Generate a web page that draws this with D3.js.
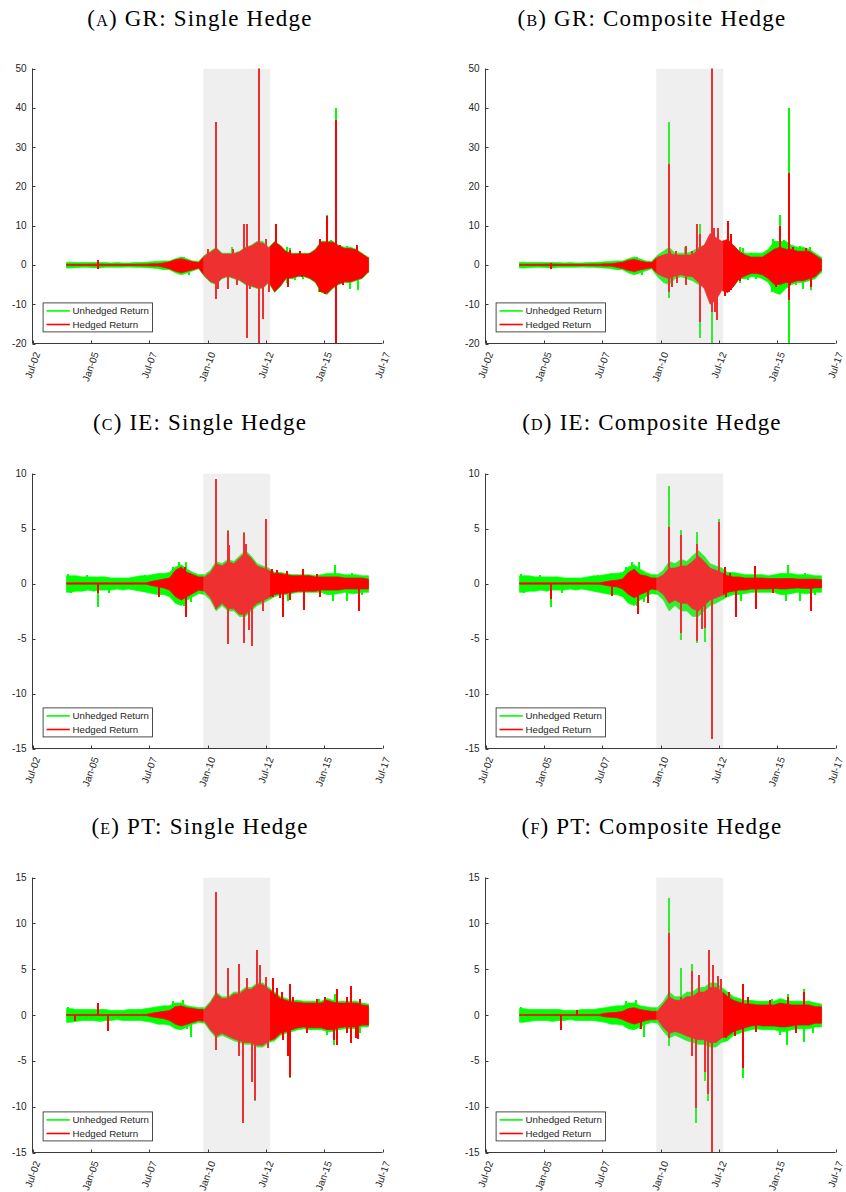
<!DOCTYPE html>
<html><head><meta charset="utf-8">
<script src="https://cdn.jsdelivr.net/npm/d3@7"></script>
<style>body{margin:0;background:#fff}svg{display:block}</style>
</head><body>
<svg id="chart" width="846" height="1192"></svg>
<script>
// ---------------- DATA ----------------
const xTickLabels = ["Jul-02","Jan-05","Jul-07","Jan-10","Jul-12","Jan-15","Jul-17"];
// quarterly bins 2004Q1..2016Q4 (categories for the envelope arrays)
const quarterLabels = d3.range(2004, 2017).flatMap(y => ["Q1","Q2","Q3","Q4"].map(q => y + q));
const dataStart = "2003-12-15", dataEnd = "2016-11-25";
const crisisStart = "2009-10-25", crisisEnd = "2012-09-06";

const yTicksGR = [-20,-10,0,10,20,30,40,50];
const yTicksIE = [-15,-10,-5,0,5,10];
const yTicksPT = [-15,-10,-5,0,5,10,15];

// ---- Greece: unhedged return envelope (quarterly high / low) + spikes [decimal year, value] ----
const grGreenHi = [.7,.6,.6,.6, .6,.6,.6,.5, .6,.5,.5,.6, .6,.7,.8,.9, 1.0,1.0,1.6,2.0, 1.5,1.0,.9,2.5, 3.5,4.5,3.0,3.0, 3.0,3.5,4.5,5.0, 6.0,6.0,4.5,6.0, 5.0,3.5,3.0,3.0, 3.0,3.0,4.0,6.0, 6.0,6.0,5.0,4.5, 4.5,4.0,3.0,2.0];
const grGreenLo = [-.8,-.7,-.6,-.6, -.7,-.8,-.6,-.6, -.6,-.6,-.5,-.6, -.6,-.7,-.8,-.9, -1.2,-1.2,-2.0,-2.5, -2.0,-1.5,-1.0,-3.0, -4.5,-5.0,-3.5,-3.0, -3.5,-4.0,-5.0,-5.5, -6.0,-6.0,-4.5,-7.0, -5.5,-3.5,-3.5,-3.0, -3.0,-3.5,-4.5,-7.0, -7.5,-6.0,-5.0,-4.5, -4.5,-4.0,-3.5,-2.0];
const grGreenSpikes = [[2008.8,1.5],[2009.0,2.0],[2009.2,-2.5],[2010.35,36.5],[2010.35,-8.5],[2011.03,4.5],[2011.56,10.5],[2011.7,10.5],[2011.7,-18.5],[2012.2,-20.5],[2013.39,4.5],[2013.39,-4.5],[2013.53,4.3],[2013.75,-3.8],[2013.89,3.0],[2014.1,-3.5],[2014.76,-6.8],[2014.81,6.5],[2014.96,5.5],[2015.04,-7.5],[2015.1,12.7],[2015.25,-6.0],[2015.3,6.3],[2015.5,10],[2015.52,40],[2015.52,-20.5],[2015.82,-5.0],[2015.96,4.8],[2016.1,-6],[2016.39,4.5],[2016.46,-6.5]];
// ---- Greece single hedge: hedged return ----
const grSingleRedHi = [.15,.15,.15,.15, .2,.2,.15,.15, .15,.15,.15,.15, .2,.2,.3,.3, .5,.8,1.3,1.6, 1.2,.8,.6,2.3, 3.2,4.2,2.8,2.8, 2.8,3.3,4.3,4.8, 5.8,5.5,4.3,5.8, 4.8,3.3,2.8,2.8, 2.8,2.8,3.8,5.8, 5.8,5.8,4.8,4.2, 4.2,3.8,2.8,1.8];
const grSingleRedLo = [-.15,-.15,-.15,-.15, -.2,-.2,-.15,-.15, -.15,-.15,-.15,-.15, -.2,-.2,-.3,-.3, -.6,-1.0,-1.6,-2.0, -1.6,-1.2,-.8,-2.8, -4.2,-4.8,-3.3,-2.8, -3.3,-3.8,-4.8,-5.3, -5.8,-5.8,-4.3,-6.8, -5.3,-3.3,-3.3,-2.8, -2.8,-3.3,-4.3,-6.8, -7.2,-5.8,-4.8,-4.3, -4.3,-3.8,-3.3,-1.8];
const grSingleRedSpikes = [[2005.3,1.2],[2005.32,-1.0],[2010.03,4],[2010.1,-4],[2010.35,36.5],[2010.35,-8.7],[2010.46,-6],[2010.89,-6],[2011.1,4],[2011.24,-5],[2011.56,10.5],[2011.7,-18.5],[2011.7,10.5],[2011.84,-6],[2011.96,5],[2012.2,50.5],[2012.2,-19.8],[2012.39,-13.7],[2012.49,6.5],[2012.64,-7],[2012.9,-5],[2012.93,10.5],[2013.1,4.5],[2013.21,-4],[2013.34,3.5],[2013.46,-5.5],[2013.53,3.8],[2013.96,3.5],[2014.03,-3],[2014.39,3.0],[2014.81,-7],[2014.81,6.5],[2015.03,-7.5],[2015.1,12.5],[2015.24,5],[2015.31,-6],[2015.39,5],[2015.5,9],[2015.52,37],[2015.52,-20.5],[2015.67,5],[2015.82,-5],[2016.1,4],[2016.41,5],[2016.67,-3]];
// ---- Greece composite hedge: hedged return ----
const grCompRedHi = [.15,.15,.15,.15, .2,.2,.15,.15, .15,.15,.15,.15, .2,.2,.3,.3, .5,.7,1.2,1.4, 1.0,.7,.6,2.0, 2.5,3.0,2.5,2.5, 2.5,2.5,4.0,5.0, 8.0,7.0,6.0,6.5, 5.0,3.5,2.5,2.0, 2.0,2.0,3.0,4.0, 4.5,4.0,4.0,3.5, 3.5,3.5,2.5,1.5];
const grCompRedLo = [-.15,-.15,-.15,-.15, -.2,-.2,-.15,-.15, -.15,-.15,-.15,-.15, -.2,-.2,-.3,-.3, -.6,-.9,-1.4,-1.7, -1.3,-1.0,-.7,-2.3, -3.0,-3.5,-2.8,-2.5, -2.8,-3.0,-4.5,-6.0, -10.0,-9.0,-6.5,-7.0, -5.5,-3.5,-2.8,-2.2, -2.2,-2.5,-3.5,-5.0, -5.0,-4.5,-4.5,-4.0, -4.0,-3.5,-3.0,-1.5];
const grCompRedSpikes = [[2005.3,0.5],[2005.31,-1.0],[2010.35,25.8],[2010.35,-7],[2010.42,3.5],[2010.5,-5.5],[2010.67,3.5],[2010.7,-4.5],[2011.1,4.8],[2011.1,-5],[2011.36,3.5],[2011.56,10.3],[2011.7,8],[2011.7,-14.5],[2012.2,50.5],[2012.2,-12],[2012.3,9.5],[2012.35,-12],[2012.4,-14],[2012.45,9.5],[2012.74,-8],[2012.89,11.2],[2012.95,-7],[2013.0,8],[2013.03,7.5],[2013.03,-6.5],[2013.24,4],[2013.39,-4],[2014.96,3.5],[2014.96,-5.5],[2015.1,10],[2015.52,23.5],[2015.52,-9],[2015.56,-5],[2015.67,4.5],[2016.24,4.3],[2016.46,-5.5]];

// ---- Ireland ----
const ieGreenHi = [.7,.7,.6,.6, .6,.6,.6,.5, .5,.5,.5,.6, .7,.7,.8,.9, .9,1.0,1.5,1.7, 1.3,1.0,.8,.8, 1.2,2.0,1.8,2.2, 2.0,2.5,3.0,2.5, 1.8,1.6,1.4,1.0, 1.0,.9,.8,.8, .8,.8,.7,.8, .9,.9,.9,.8, .8,.8,.7,.7];
const ieGreenLo = [-.8,-.7,-.7,-.6, -.7,-.6,-.6,-.6, -.5,-.6,-.5,-.6, -.7,-.8,-.9,-1.0, -1.0,-1.2,-1.8,-2.0, -1.5,-1.2,-.9,-1.0, -1.5,-2.5,-2.0,-2.5, -2.5,-3.0,-3.0,-2.5, -2.0,-1.8,-1.5,-1.2, -1.0,-1.0,-.9,-.8, -.8,-.8,-.8,-.8, -1.0,-1.0,-.9,-.8, -.9,-.9,-.8,-.8];
const ieGreenSpikes = [[2004.03,0.9],[2004.13,-0.9],[2004.81,0.8],[2005.31,-2.1],[2005.76,-0.9],[2007.31,0.8],[2007.6,-0.8],[2007.79,0.9],[2008.17,0.8],[2008.24,-1.0],[2008.5,1.5],[2008.6,-1.6],[2008.79,2.0],[2009.0,-2.0],[2009.07,2.0],[2009.3,-1.7],[2010.34,8.9],[2010.34,-2.0],[2010.86,4.9],[2010.86,-5.1],[2011.56,4.7],[2011.56,-5.4],[2011.91,-5.3],[2012.49,5.9],[2013.46,-1.6],[2015.39,-1.6],[2015.46,1.7],[2015.96,-1.6],[2016.2,1.0],[2016.6,-1.0]];
const ieSingleRedHi = [.06,.06,.06,.06, .06,.06,.06,.06, .06,.06,.06,.06, .06,.06,.2,.3, .4,.5,1.2,1.5, 1.0,.8,.6,.6, 1.0,1.8,1.6,2.0, 1.8,2.3,2.8,2.3, 1.6,1.4,1.2,.9, .9,.8,.7,.7, .7,.7,.6,.6, .6,.6,.6,.5, .5,.5,.5,.4];
const ieSingleRedLo = [-.06,-.06,-.06,-.06, -.06,-.06,-.06,-.06, -.06,-.06,-.06,-.06, -.06,-.06,-.2,-.3, -.4,-.6,-1.2,-1.5, -1.2,-.9,-.6,-.7, -1.3,-2.3,-1.8,-2.3, -2.3,-2.8,-2.8,-2.3, -1.8,-1.6,-1.3,-1.0, -.9,-.9,-.8,-.7, -.7,-.7,-.7,-.6, -.6,-.6,-.6,-.5, -.5,-.5,-.5,-.5];
const ieSingleRedSpikes = [[2005.31,-0.9],[2007.93,-1.2],[2008.9,1.3],[2009.05,1.5],[2009.07,-3.0],[2009.25,1.0],[2010.34,9.5],[2010.34,-2.3],[2010.86,4.8],[2010.86,-5.5],[2010.93,3.5],[2011.56,4.6],[2011.56,-5.4],[2011.63,3.6],[2011.79,-4.2],[2011.91,-5.7],[2012.39,-2.5],[2012.49,5.9],[2012.74,1.3],[2012.81,-1.2],[2012.96,1.2],[2013.1,-1.3],[2013.24,-3.0],[2013.39,1.1],[2013.53,-1.5],[2014.1,1.3],[2014.13,-2.4],[2014.67,0.9],[2014.81,-1.2],[2016.49,-2.5]];
const ieCompRedHi = [.06,.06,.06,.06, .06,.06,.06,.06, .06,.06,.06,.06, .06,.06,.15,.25, .3,.4,1.0,1.3, .8,.7,.5,.5, .8,1.4,1.4,1.6, 1.6,2.0,2.5,2.0, 1.4,1.2,1.0,.7, .6,.6,.5,.5, .5,.5,.45,.45, .45,.45,.45,.4, .4,.4,.4,.35];
const ieCompRedLo = [-.06,-.06,-.06,-.06, -.06,-.06,-.06,-.06, -.06,-.06,-.06,-.06, -.06,-.06,-.15,-.25, -.3,-.5,-1.0,-1.3, -1.0,-.8,-.5,-.6, -1.0,-1.8,-1.5,-1.8, -1.8,-2.3,-2.5,-2.0, -1.5,-1.3,-1.1,-.8, -.7,-.6,-.6,-.5, -.5,-.5,-.5,-.45, -.5,-.5,-.45,-.4, -.45,-.45,-.4,-.4];
const ieCompRedSpikes = [[2005.31,-1.4],[2007.9,-1.1],[2009.03,-2.8],[2009.46,-1.8],[2010.34,5.1],[2010.34,-1.2],[2010.86,4.4],[2010.86,-4.5],[2011.56,3.6],[2011.56,-5.2],[2011.77,-4.1],[2011.91,-4.0],[2012.19,-14.1],[2012.49,5.6],[2012.74,1.5],[2012.81,-1.2],[2012.96,1.0],[2013.21,-3.0],[2014.06,1.6],[2014.11,-2.3],[2014.81,-0.9],[2016.43,-2.5]];

// ---- Portugal ----
const ptGreenHi = [.7,.6,.6,.6, .6,.6,.6,.5, .5,.5,.6,.6, .6,.7,.8,.9, 1.0,1.0,1.3,1.3, 1.0,.9,.8,.8, 1.5,2.5,2.0,2.0, 2.5,2.5,3.0,3.0, 3.5,3.5,3.0,2.5, 2.0,1.8,1.6,1.6, 1.5,1.5,1.5,1.5, 1.8,1.6,1.5,1.5, 1.5,1.5,1.3,1.2];
const ptGreenLo = [-.8,-.7,-.6,-.6, -.6,-.7,-.6,-.6, -.5,-.6,-.6,-.6, -.6,-.7,-.8,-1.0, -1.0,-1.1,-1.5,-1.6, -1.3,-1.0,-.8,-.9, -1.8,-2.5,-2.2,-2.5, -2.8,-3.0,-3.2,-3.2, -3.5,-3.5,-3.0,-2.8, -2.2,-2.0,-1.8,-1.6, -1.5,-1.6,-1.6,-1.6, -1.8,-1.8,-1.6,-1.5, -1.5,-1.5,-1.3,-1.3];
const ptGreenSpikes = [[2004.03,0.9],[2008.5,1.5],[2008.75,1.2],[2008.96,1.6],[2009.1,-1.5],[2009.27,-2.4],[2010.34,12.8],[2010.34,-3.4],[2010.89,5.1],[2011.36,5.6],[2011.5,-11.8],[2011.9,-7.2],[2012.03,-9.4],[2013.53,-6.9],[2014.79,1.8],[2015.1,-2.2],[2015.41,-3.3],[2015.46,2.3],[2016.14,2.8],[2016.14,-2.9],[2016.55,-2.0]];
const ptSingleRedHi = [.06,.06,.06,.06, .06,.06,.06,.06, .06,.06,.06,.06, .06,.06,.2,.3, .4,.5,.9,1.0, .8,.7,.6,.6, 1.3,2.3,1.8,1.8, 2.3,2.3,2.8,2.8, 3.3,3.3,2.8,2.3, 1.8,1.6,1.4,1.4, 1.3,1.3,1.3,1.3, 1.6,1.4,1.3,1.3, 1.3,1.3,1.1,1.0];
const ptSingleRedLo = [-.06,-.06,-.06,-.06, -.06,-.06,-.06,-.06, -.06,-.06,-.06,-.06, -.06,-.06,-.2,-.3, -.4,-.6,-1.0,-1.2, -1.0,-.8,-.6,-.7, -1.6,-2.3,-2.0,-2.3, -2.6,-2.8,-3.0,-3.0, -3.3,-3.3,-2.8,-2.6, -2.0,-1.8,-1.6,-1.4, -1.3,-1.4,-1.4,-1.4, -1.6,-1.6,-1.4,-1.3, -1.3,-1.3,-1.1,-1.1];
const ptSingleRedSpikes = [[2004.3,-0.6],[2005.31,1.3],[2005.71,-1.7],[2010.34,13.4],[2010.34,-3.8],[2010.89,5.1],[2011.33,-4.5],[2011.36,5.6],[2011.5,-11.8],[2011.68,4.0],[2011.9,-7.3],[2012.03,-9.3],[2012.11,7.1],[2012.24,5.5],[2012.49,4.2],[2012.6,-3.6],[2012.78,-2.5],[2012.81,4.0],[2012.96,2.9],[2013.17,2.5],[2013.24,-2.7],[2013.46,-4.5],[2013.53,3.4],[2013.53,-6.8],[2013.67,2.0],[2014.24,-2.0],[2014.67,1.8],[2015.03,2.0],[2015.41,-2.7],[2015.53,2.8],[2015.53,-3.3],[2015.96,2.0],[2015.96,-2.0],[2016.14,-3.1],[2016.14,3.2],[2016.35,-2.5],[2016.46,-2.6],[2016.53,1.8]];
const ptCompRedHi = [.06,.06,.06,.06, .06,.06,.06,.06, .06,.06,.06,.06, .06,.06,.2,.25, .3,.4,.7,.8, .6,.5,.4,.4, 1.2,2.0,1.6,1.6, 2.0,2.0,2.5,2.5, 3.0,3.0,2.6,2.0, 1.6,1.4,1.2,1.2, 1.1,1.1,1.1,1.1, 1.3,1.2,1.1,1.1, 1.1,1.1,.9,.9];
const ptCompRedLo = [-.06,-.06,-.06,-.06, -.06,-.06,-.06,-.06, -.06,-.06,-.06,-.06, -.06,-.06,-.2,-.25, -.3,-.5,-.8,-1.0, -.8,-.6,-.5,-.5, -1.4,-2.0,-1.8,-2.0, -2.3,-2.5,-2.7,-2.7, -3.0,-3.0,-2.5,-2.3, -1.8,-1.6,-1.4,-1.2, -1.1,-1.2,-1.2,-1.2, -1.3,-1.3,-1.2,-1.1, -1.1,-1.1,-.9,-.9];
const ptCompRedSpikes = [[2005.71,-1.6],[2006.4,0.6],[2009.17,-1.5],[2010.34,8.9],[2010.34,-2.5],[2010.89,2.0],[2011.36,4.8],[2011.36,-4.5],[2011.5,-10.1],[2011.64,4.4],[2011.9,-6.2],[2012.03,-8.6],[2012.07,7.1],[2012.19,-15.5],[2012.24,5.5],[2012.45,4.3],[2012.6,3.9],[2012.81,-2.5],[2012.91,2.5],[2013.17,-2.3],[2013.53,-5.8],[2013.53,3.4],[2013.74,2.0],[2014.1,-1.8],[2014.67,1.6],[2015.46,2.0],[2015.81,-2.0],[2016.14,2.5]];

const legendLabels = ["Unhedged Return","Hedged Return"];
const panels = [
  {letter:"a", title:"GR: Single Hedge", yDomain:[-20,50], yTicks:yTicksGR, gHi:grGreenHi, gLo:grGreenLo, gSp:grGreenSpikes, rHi:grSingleRedHi, rLo:grSingleRedLo, rSp:grSingleRedSpikes},
  {letter:"b", title:"GR: Composite Hedge", yDomain:[-20,50], yTicks:yTicksGR, gHi:grGreenHi, gLo:grGreenLo, gSp:grGreenSpikes, rHi:grCompRedHi, rLo:grCompRedLo, rSp:grCompRedSpikes},
  {letter:"c", title:"IE: Single Hedge", yDomain:[-15,10], yTicks:yTicksIE, gHi:ieGreenHi, gLo:ieGreenLo, gSp:ieGreenSpikes, rHi:ieSingleRedHi, rLo:ieSingleRedLo, rSp:ieSingleRedSpikes},
  {letter:"d", title:"IE: Composite Hedge", yDomain:[-15,10], yTicks:yTicksIE, gHi:ieGreenHi, gLo:ieGreenLo, gSp:ieGreenSpikes, rHi:ieCompRedHi, rLo:ieCompRedLo, rSp:ieCompRedSpikes},
  {letter:"e", title:"PT: Single Hedge", yDomain:[-15,15], yTicks:yTicksPT, gHi:ptGreenHi, gLo:ptGreenLo, gSp:ptGreenSpikes, rHi:ptSingleRedHi, rLo:ptSingleRedLo, rSp:ptSingleRedSpikes},
  {letter:"f", title:"PT: Composite Hedge", yDomain:[-15,15], yTicks:yTicksPT, gHi:ptGreenHi, gLo:ptGreenLo, gSp:ptGreenSpikes, rHi:ptCompRedHi, rLo:ptCompRedLo, rSp:ptCompRedSpikes}
];

// ---------------- LAYOUT ----------------
const colX = [32.5, 485.5], rowY = [68.5, 473.5, 877.5], titleY = [25.7, 430, 834], titleCX = [200, 652];
const W = 350, H = 275;
const GREEN = "#00ff00", RED = "#ff0000", AXIS = "#3a3a3a", TXT = "#262626";

const parse = d3.timeParse("%Y-%m-%d");
const yr = v => { const y = Math.floor(v); const s = new Date(y,0,1), e = new Date(y+1,0,1); return new Date(+s + (v-y)*(e-s)); };
const qMid = lbl => { const y = +lbl.slice(0,4), q = +lbl.slice(5); return new Date(y, (q-1)*3 + 1, 15); };
const xTickDates = xTickLabels.map(d3.timeParse("%b-%y"));

const svg = d3.select("#chart");

panels.forEach((p, i) => {
  const col = i % 2, row = Math.floor(i / 2);
  const x0 = colX[col], y0 = rowY[row];
  const x = d3.scaleTime().domain([xTickDates[0], xTickDates[xTickDates.length-1]]).range([x0, x0 + W]);
  const y = d3.scaleLinear().domain(p.yDomain).range([y0 + H, y0]);

  const t = svg.append("text").attr("x", titleCX[col]).attr("y", titleY[row])
    .attr("text-anchor","middle").attr("font-family","'Liberation Serif','Times New Roman',serif")
    .attr("font-size", 23).attr("letter-spacing", 1.2).attr("fill","#000");
  t.append("tspan").text("(");
  t.append("tspan").attr("font-variant","small-caps").text(p.letter);
  t.append("tspan").text(") " + p.title);

  const clipId = "clip" + i;
  svg.append("clipPath").attr("id", clipId).append("rect").attr("x", x0).attr("y", y0).attr("width", W).attr("height", H);
  const gp = svg.append("g").attr("clip-path", `url(#${clipId})`);

  const drawSeries = (hi, lo, spikes, color) => {
    const pts = quarterLabels.map((q, k) => ({d: qMid(q), hi: hi[k], lo: lo[k]}));
    pts.unshift({d: parse(dataStart), hi: hi[0], lo: lo[0]});
    pts.push({d: parse(dataEnd), hi: hi[hi.length-1], lo: lo[lo.length-1]});
    gp.append("path").datum(pts)
      .attr("d", d3.area().x(d => x(d.d)).y0(d => y(d.lo)).y1(d => y(d.hi)))
      .attr("fill", color).attr("stroke", color).attr("stroke-width", 0.7).attr("stroke-linejoin","round");
    const sx = d => Math.round(x(yr(d[0])));
    gp.selectAll(null).data(spikes).enter().append("line")
      .attr("x1", sx).attr("x2", sx)
      .attr("y1", y(0)).attr("y2", d => y(d[1]))
      .attr("stroke", color).attr("stroke-width", 2).attr("shape-rendering","crispEdges");
  };
  drawSeries(p.gHi, p.gLo, p.gSp, GREEN);
  drawSeries(p.rHi, p.rLo, p.rSp, RED);

  gp.append("rect").attr("x", x(parse(crisisStart))).attr("y", y0)
    .attr("width", x(parse(crisisEnd)) - x(parse(crisisStart))).attr("height", H)
    .attr("fill", "#bfbfbf").attr("fill-opacity", 0.25);

  const ax = svg.append("g").attr("stroke", AXIS).attr("stroke-width", 1).attr("fill","none");
  ax.append("line").attr("x1", x0).attr("x2", x0).attr("y1", y0).attr("y2", y0 + H);
  ax.append("line").attr("x1", x0).attr("x2", x0 + W).attr("y1", y0 + H).attr("y2", y0 + H);
  p.yTicks.forEach(v => ax.append("line").attr("x1", x0).attr("x2", x0 + 3).attr("y1", Math.round(y(v)) + 0.5).attr("y2", Math.round(y(v)) + 0.5));
  xTickDates.forEach(d => ax.append("line").attr("x1", Math.round(x(d)) + 0.5).attr("x2", Math.round(x(d)) + 0.5).attr("y1", y0 + H).attr("y2", y0 + H - 3));

  svg.append("g").selectAll("text").data(p.yTicks).enter().append("text")
    .attr("x", x0 - 6).attr("y", d => y(d)).attr("dy","0.35em").attr("text-anchor","end")
    .attr("font-family","'Liberation Sans',Arial,sans-serif").attr("font-size", 10).attr("fill", TXT)
    .text(d => d);
  svg.append("g").selectAll("text").data(xTickDates).enter().append("text")
    .attr("transform", d => `translate(${x(d) + 8},${y0 + H + 10}) rotate(-70)`)
    .attr("text-anchor","end")
    .attr("font-family","'Liberation Sans',Arial,sans-serif").attr("font-size", 10).attr("fill", TXT)
    .text((d, k) => xTickLabels[k]);

  const lx = x0 + 10.6, ly = y0 + H - 11.6 - 29;
  const lg = svg.append("g");
  lg.append("rect").attr("x", lx).attr("y", ly).attr("width", 109.4).attr("height", 29)
    .attr("fill","#fff").attr("stroke", AXIS).attr("stroke-width", 0.9);
  [[GREEN, 8], [RED, 21.6]].forEach(([c, dy], k) => {
    lg.append("line").attr("x1", lx + 3.4).attr("x2", lx + 26.7).attr("y1", ly + dy).attr("y2", ly + dy)
      .attr("stroke", c).attr("stroke-width", 1.6);
    lg.append("text").attr("x", lx + 29.4).attr("y", ly + dy).attr("dy","0.35em")
      .attr("font-family","'Liberation Sans',Arial,sans-serif").attr("font-size", 9.7).attr("fill", TXT)
      .text(legendLabels[k]);
  });
});
</script>
</body></html>
